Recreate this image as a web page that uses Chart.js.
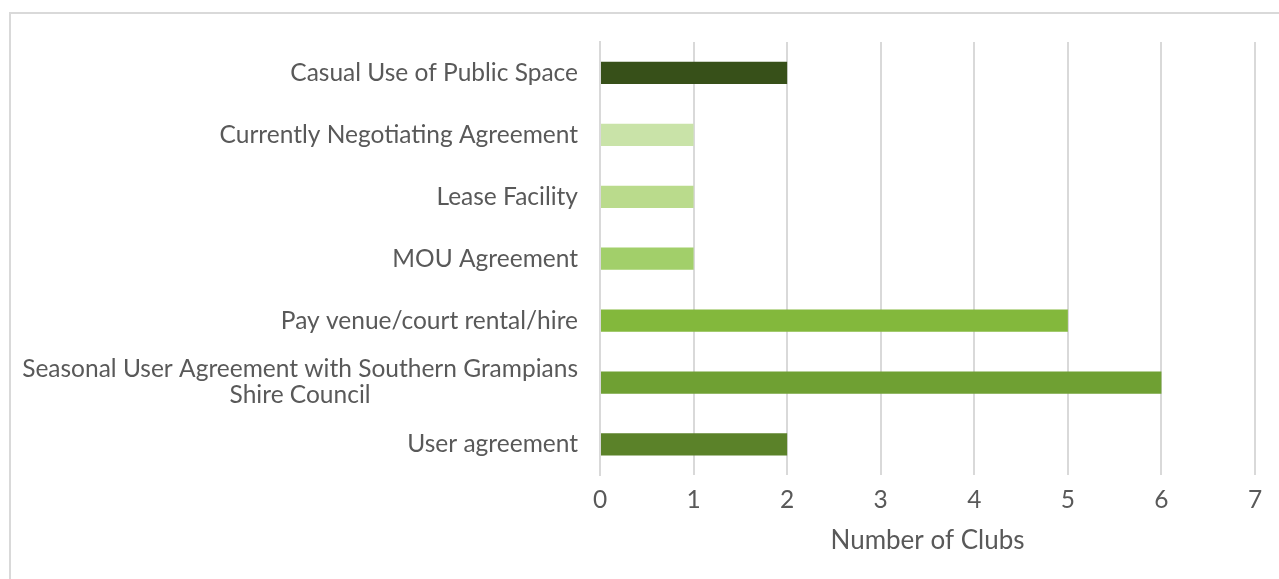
<!DOCTYPE html>
<html>
<head>
<meta charset="utf-8">
<script src="https://cdn.jsdelivr.net/npm/chart.js@4"></script>
<style>
  html, body { margin: 0; padding: 0; background: #fff; }
  body { width: 1279px; height: 579px; overflow: hidden; position: relative; }
  #frame { position: absolute; left: 9px; top: 12px; width: 1400px; height: 700px; border: 2px solid #d9d9d9; box-sizing: border-box; }
  #wrap { position: absolute; left: 0; top: 0; width: 1279px; height: 579px; }
</style>
</head>
<body>
<div id="frame"></div>
<div id="wrap"><canvas id="c" width="1279" height="579"></canvas></div>
<script>
const categories = [
  ["Casual Use of Public Space"],
  ["Currently Negotiating Agreement"],
  ["Lease Facility"],
  ["MOU Agreement"],
  ["Pay venue/court rental/hire"],
  ["Seasonal User Agreement with Southern Grampians", "Shire Council"],
  ["User agreement"]
];
const clubCounts = [2, 1, 1, 1, 5, 6, 2];
const barColors = ["#375019", "#c9e3a8", "#badb8c", "#a2cf6a", "#83b83c", "#6fa033", "#5b8229"];
const xTicks = [0, 1, 2, 3, 4, 5, 6, 7];
const xTitle = "Number of Clubs";

const FONT = "Lato, 'DejaVu Sans', sans-serif";
const TEXT = "#595959";
const FS = 24.5;

const labelPlugin = {
  id: 'catLabels',
  afterDraw(chart) {
    const y = chart.scales.y;
    const ctx = chart.ctx;
    ctx.save();
    ctx.font = FS + "px " + FONT;
    ctx.fillStyle = TEXT;
    ctx.textAlign = "center";
    ctx.textBaseline = "middle";
    const right = chart.chartArea.left - 22;
    const lh = 26;
    categories.forEach((lines, i) => {
      const cy = y.getPixelForTick(i);
      let maxW = 0;
      lines.forEach(l => { maxW = Math.max(maxW, ctx.measureText(l).width); });
      const cx = right - maxW / 2;
      const start = cy - (lines.length - 1) * lh / 2;
      lines.forEach((l, j) => ctx.fillText(l, cx, start + j * lh));
    });
    ctx.restore();
  }
};

new Chart(document.getElementById('c'), {
  type: 'bar',
  data: {
    labels: categories.map(c => c.join(' ')),
    datasets: [{
      data: clubCounts,
      backgroundColor: barColors,
      borderWidth: 0,
      barPercentage: 0.36,
      categoryPercentage: 1.0
    }]
  },
  options: {
    indexAxis: 'y',
    responsive: false,
    animation: false,
    devicePixelRatio: 1,
    layout: { padding: { left: 10, right: 24, top: 42, bottom: 23 } },
    plugins: { legend: { display: false }, tooltip: { enabled: false } },
    scales: {
      x: {
        min: 0, max: 7,
        afterBuildTicks(scale) { scale.ticks = xTicks.map(v => ({ value: v })); },
        grid: { color: '#d9d9d9', lineWidth: 2, drawTicks: false },
        border: { display: false },
        ticks: { color: TEXT, font: { family: FONT, size: FS }, padding: 10 },
        title: { display: true, text: xTitle, color: TEXT, font: { family: FONT, size: 26 }, padding: { top: 0, bottom: 0 } }
      },
      y: {
        grid: { display: false, drawTicks: false },
        border: { display: true, color: '#d9d9d9', width: 2 },
        ticks: { display: false },
        afterFit(scale) { scale.width = 590; }
      }
    }
  },
  plugins: [labelPlugin]
});
</script>
</body>
</html>
